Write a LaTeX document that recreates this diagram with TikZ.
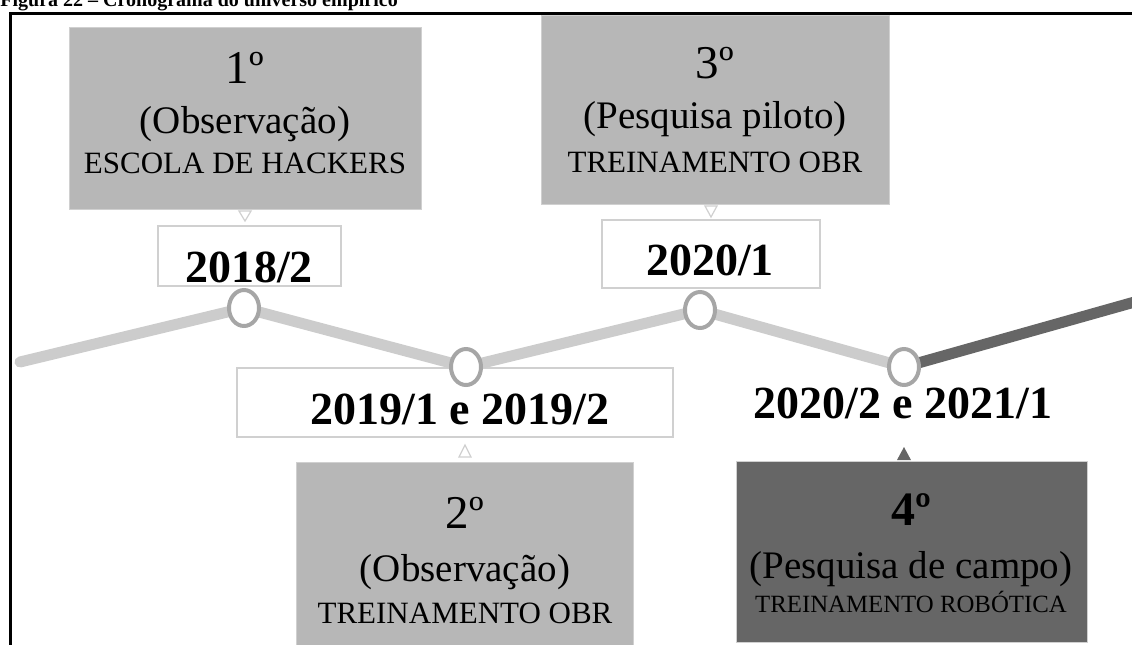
\documentclass[tikz,border=0pt]{standalone}
\usepackage{fontspec}
\setmainfont{Liberation Serif}
\usetikzlibrary{shapes.geometric}
\definecolor{boxgray}{HTML}{B7B7B7}
\definecolor{darkbox}{HTML}{666666}
\definecolor{linegray}{HTML}{CCCCCC}
\definecolor{ringgray}{HTML}{A6A6A6}
\definecolor{edgegray}{HTML}{D0D0D0}
\tikzset{
  phase/.style={draw=edgegray, fill=boxgray, line width=0.5pt, inner sep=0pt},
  datebox/.style={draw=edgegray, fill=white, line width=0.6pt, inner sep=0pt},
  ordtext/.style={font=\fontsize{23.5}{26}\selectfont, anchor=base},
  kindtext/.style={font=\fontsize{19.5}{22}\selectfont, anchor=base},
  placetext/.style={font=\fontsize{15.5}{18}\selectfont, anchor=base},
  datetext/.style={font=\bfseries\fontsize{23}{26}\selectfont, anchor=base},
  ring/.style={ellipse, draw=ringgray, fill=white, line width=2pt,
    minimum width=15pt, minimum height=18pt, inner sep=0pt},
  track/.style={line width=5.5pt, draw=linegray, line cap=round},
  opentri/.style={draw=edgegray, fill=white, line width=0.6pt},
}
\begin{document}
\begin{tikzpicture}[x=0.5pt,y=-0.5pt]
  \useasboundingbox (0,0) rectangle (1132,644);
  \clip (0,0) rectangle (1132,644);

  % caption and frame
  \node[font=\bfseries\fontsize{10}{12}\selectfont, anchor=base west, inner sep=0pt] (caption) at (0,6) {Figura 22 -- Cronograma do universo empírico};
  \draw[line width=1.5pt] (10,700) -- (10,13.5) -- (1200,13.5);

  % phase boxes
  \node[phase, minimum width=176pt, minimum height=91pt] (p1) at (245,118) {};
  \node[phase, minimum width=174pt, minimum height=94.5pt] (p3) at (715,109.5) {};
  \node[phase, minimum width=168.5pt, minimum height=109pt] (p2) at (464.5,571) {};
  \node[phase, fill=darkbox, minimum width=175.5pt, minimum height=90.5pt] (p4) at (911.5,551.5) {};

  % little pointers
  \draw[opentri] (239,211) -- (251,211) -- (245,221) -- cycle;
  \draw[opentri] (705,206) -- (717,206) -- (711,217) -- cycle;
  \draw[opentri] (459,457) -- (471,457) -- (465,445) -- cycle;
  \fill[darkbox] (897,460) -- (911,460) -- (904,447) -- cycle;

  % date boxes
  \node[datebox, minimum width=91.5pt, minimum height=30pt] (d1) at (249.5,256) {};
  \node[datebox, minimum width=218pt, minimum height=34.5pt] (d2) at (455,402.5) {};
  \node[datebox, minimum width=109pt, minimum height=34pt] (d3) at (711,254) {};

  % timeline
  \coordinate (tl0) at (20,362);
  \coordinate (c1) at (244,308);
  \coordinate (c2) at (466,367);
  \coordinate (c3) at (700,310);
  \coordinate (c4) at (904,367);
  \coordinate (tl5) at (1170,292);
  \draw[track] (tl0) -- (c1) -- (c2) -- (c3) -- (c4);
  \draw[track, draw=darkbox, line cap=butt] (c4) -- (tl5);
  \foreach \c in {1,...,4}
    \node[ring] (r\c) at (c\c) {};

  % dates
  \node[datetext] (d1t) at (249,282) {2018/2};
  \node[datetext] (d2t) at (460,424) {2019/1 e 2019/2};
  \node[datetext] (d3t) at (710,275) {2020/1};
  \node[datetext] (d4t) at (903,418) {2020/2 e 2021/1};

  % texts of the phases
  \node[ordtext] (p1a) at (245,83) {1º};
  \node[kindtext] (p1b) at (245,133) {(Observação)};
  \node[placetext] (p1c) at (245,173) {ESCOLA DE HACKERS};

  \node[ordtext] (p3a) at (715,78) {3º};
  \node[kindtext] (p3b) at (715,128) {(Pesquisa piloto)};
  \node[placetext] (p3c) at (715,172) {TREINAMENTO OBR};

  \node[ordtext] (p2a) at (465,528) {2º};
  \node[kindtext] (p2b) at (465,581) {(Observação)};
  \node[placetext] (p2c) at (465,623) {TREINAMENTO OBR};

  \node[ordtext, font=\bfseries\fontsize{24}{26}\selectfont] (p4a) at (911,525) {4º};
  \node[kindtext] (p4b) at (911,578) {(Pesquisa de campo)};
  \node[placetext, font=\fontsize{12.4}{14}\selectfont] (p4c) at (911,612) {TREINAMENTO ROBÓTICA};
\end{tikzpicture}
\end{document}
